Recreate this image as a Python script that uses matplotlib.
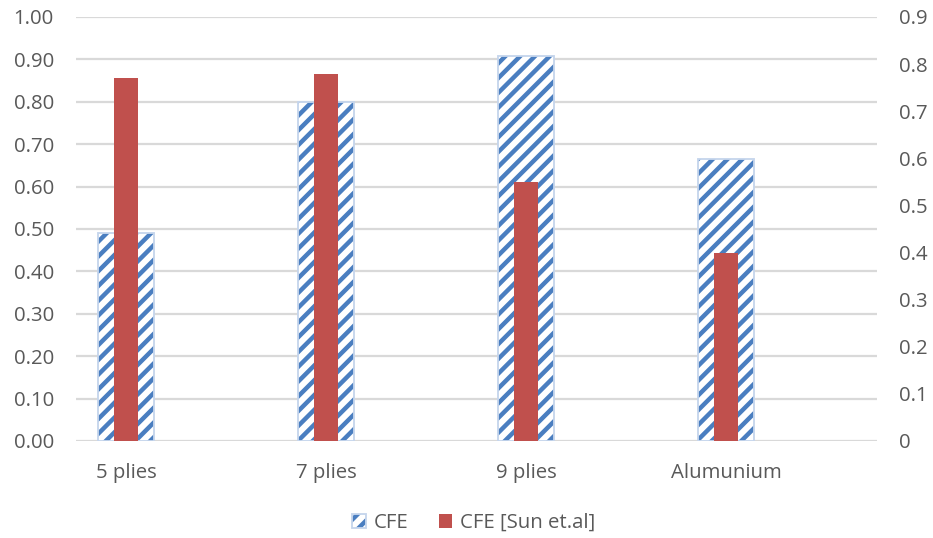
"""
CFE comparison chart: hatched CFE on the left axis, CFE [Sun et.al] on the right axis.
"""
import matplotlib.pyplot as plt
import numpy as np
from matplotlib.patches import Patch
from matplotlib.ticker import FormatStrFormatter, MultipleLocator

plt.rcParams["font.family"] = ["Open Sans", "DejaVu Sans"]
plt.rcParams["hatch.linewidth"] = 2.4

categories = ["5 plies", "7 plies", "9 plies", "Alumunium"]
cfe = [0.49, 0.80, 0.908, 0.665]
cfe_sun = [0.77, 0.78, 0.55, 0.40]

TEXT = "#595959"
GRID = "#D9D9D9"
RED = "#C0504D"
BLUE = "#4A7EC0"
OUTLINE = "#C5D5EC"

DPI = 133.3
fig = plt.figure(figsize=(933 / DPI, 538 / DPI), dpi=DPI)
ax = fig.add_axes([76 / 933, 1 - 441 / 538, 801 / 933, 424 / 538])
ax2 = ax.twinx()

x = np.arange(len(categories))
# hatch takes the edge colour, so the outline is drawn as a second bar
ax.bar(x, cfe, width=0.28, color="white", edgecolor=BLUE,
       hatch="///", linewidth=0, zorder=2)
ax.bar(x, cfe, width=0.28, fill=False, edgecolor=OUTLINE, linewidth=1.0, zorder=2)
ax2.bar(x, cfe_sun, width=0.123, color=RED, zorder=3)

ax.set_xlim(-0.25, 3.755)
ax.set_ylim(0, 1.0)
ax2.set_ylim(0, 0.9)
ax.yaxis.set_major_locator(MultipleLocator(0.1))
ax.yaxis.set_major_formatter(FormatStrFormatter("%.2f"))
ax2.set_yticks(np.arange(0, 0.91, 0.1))
ax2.set_yticklabels(["0"] + [f"{v:.1f}" for v in np.arange(0.1, 0.91, 0.1)])

ax.set_xticks(x)
ax.set_xticklabels(categories)
ax.grid(axis="y", color=GRID, linewidth=1.2, zorder=0)
ax.set_axisbelow(True)

for a in (ax, ax2):
    for s in a.spines.values():
        s.set_visible(False)
    a.tick_params(length=0, labelsize=11, colors=TEXT)
ax.tick_params(axis="y", pad=12)
ax.tick_params(axis="x", pad=12)
ax2.tick_params(axis="y", pad=12)

handles = [
    (Patch(facecolor="white", edgecolor=BLUE, hatch="///", linewidth=0),
     Patch(fill=False, edgecolor=OUTLINE, linewidth=1.0)),
    Patch(facecolor=RED),
]
fig.legend(handles=handles, labels=["CFE", "CFE [Sun et.al]"], loc="center",
           bbox_to_anchor=(0.508, 1 - 523 / 538),
           ncol=2, frameon=False, fontsize=11, labelcolor=TEXT,
           handlelength=0.65, handleheight=0.65, handletextpad=0.4, columnspacing=1.5)

fig.savefig("out.png", dpi=DPI)
